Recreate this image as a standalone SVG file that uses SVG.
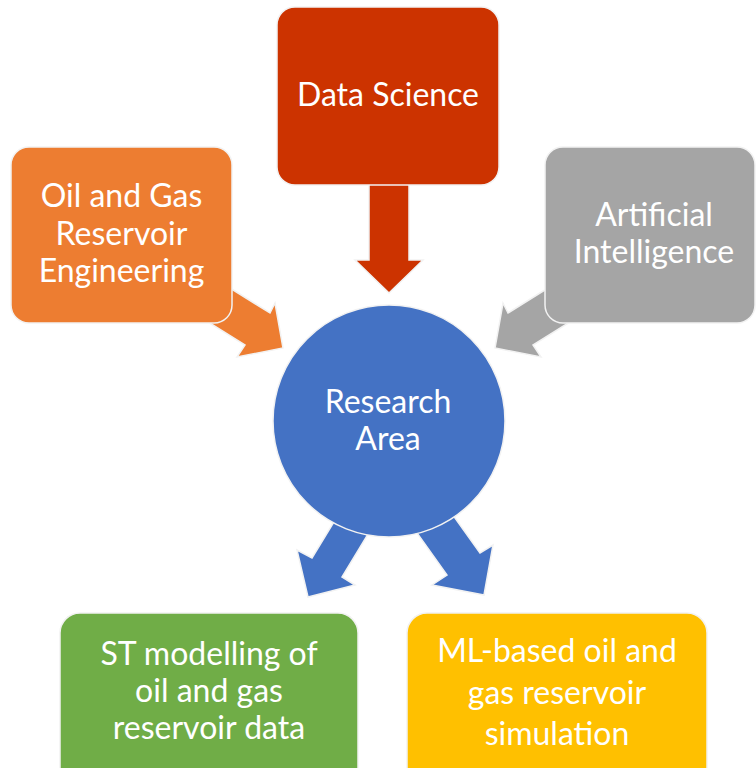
<svg xmlns="http://www.w3.org/2000/svg" width="756" height="768" viewBox="0 0 756 768">
  <style>
    .shape { stroke: #f2f2f2; stroke-width: 1.5; }
    .lbl { font-family: Lato, "Open Sans", "Noto Sans", sans-serif; font-size: 32px; fill: #ffffff; text-anchor: middle; }
  </style>
  <rect width="756" height="768" fill="#ffffff"/>
  <g id="connectors">
    <polygon class="shape" fill="#CC3300" points="369,180 409,180 409,260 423,260 389,293 355,260 369,260"/>
    <polygon class="shape" fill="#ED7D31" points="222,283 270,313 275,303 283,348 237,357 245,345 200,317"/>
    <polygon class="shape" fill="#A5A5A5" points="556,283 508,313 503,303 495,348 541,357 533,345 578,317"/>
    <polygon class="shape" fill="#4472C4" points="343,507 312,558 297,550 308,597 355,585 342,577 373,526"/>
    <polygon class="shape" fill="#4472C4" points="445,504 480,553 493,545 484,595 432,585 447,575 412,526"/>
  </g>
  <g id="node-data-science">
    <rect class="shape" x="277" y="7" width="222" height="178" rx="18" fill="#CC3300"/>
    <text class="lbl" x="388" y="106">Data Science</text>
  </g>
  <g id="node-oil-gas-engineering">
    <rect class="shape" x="11" y="147" width="221" height="176" rx="18" fill="#ED7D31"/>
    <text class="lbl" x="121.5" y="207">Oil and Gas</text>
    <text class="lbl" x="121.5" y="245">Reservoir</text>
    <text class="lbl" x="121.5" y="282">Engineering</text>
  </g>
  <g id="node-ai">
    <rect class="shape" x="545" y="147" width="210" height="176" rx="18" fill="#A5A5A5"/>
    <text class="lbl" x="654" y="226">Artificial</text>
    <text class="lbl" x="654" y="263">Intelligence</text>
  </g>
  <g id="node-research-area">
    <circle class="shape" cx="389" cy="421" r="116" fill="#4472C4"/>
    <text class="lbl" x="388" y="413">Research</text>
    <text class="lbl" x="388" y="450">Area</text>
  </g>
  <g id="node-st-modelling">
    <rect class="shape" x="60" y="613" width="298" height="180" rx="20" fill="#70AD47"/>
    <text class="lbl" x="209" y="665">ST modelling of</text>
    <text class="lbl" x="209" y="702">oil and gas</text>
    <text class="lbl" x="209" y="739">reservoir data</text>
  </g>
  <g id="node-ml-simulation">
    <rect class="shape" x="407" y="613" width="300" height="180" rx="20" fill="#FFC000"/>
    <text class="lbl" x="557" y="662">ML-based oil and</text>
    <text class="lbl" x="557" y="703.5">gas reservoir</text>
    <text class="lbl" x="557" y="745">simulation</text>
  </g>
</svg>
